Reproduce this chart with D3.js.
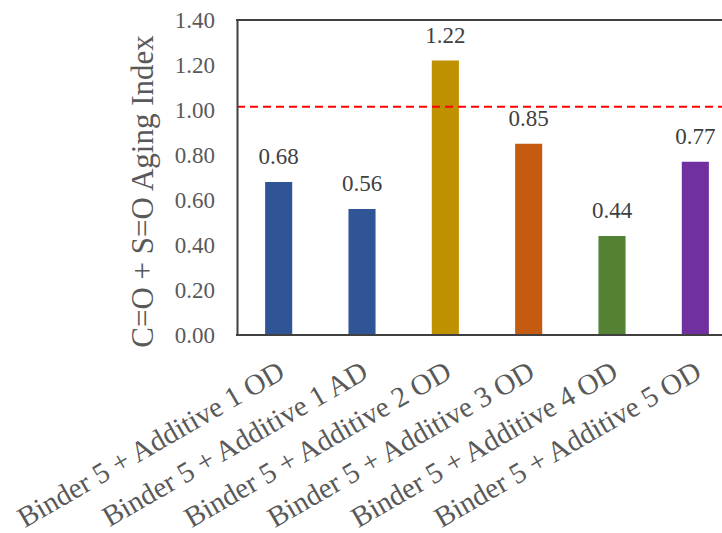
<!DOCTYPE html>
<html>
<head>
<meta charset="utf-8">
<script src="https://cdn.jsdelivr.net/npm/d3@7"></script>
<style>
  html, body { margin: 0; padding: 0; background: #fff; }
  svg { display: block; }
  text { font-family: "Liberation Serif", "Times New Roman", serif; fill: #595959; }
</style>
</head>
<body>
<svg id="chart" width="722" height="533"></svg>
<script>
const categories = [
  "Binder 5 + Additive 1 OD",
  "Binder 5 + Additive 1 AD",
  "Binder 5 + Additive 2 OD",
  "Binder 5 + Additive 3 OD",
  "Binder 5 + Additive 4 OD",
  "Binder 5 + Additive 5 OD"
];
const values = [0.68, 0.56, 1.22, 0.85, 0.44, 0.77];
const barColors = ["#2F5597", "#2F5597", "#BF9000", "#C55A11", "#548235", "#7030A0"];
const yTicks = [0, 0.2, 0.4, 0.6, 0.8, 1.0, 1.2, 1.4];
const referenceLine = 1.015;
const yTitle = "C=O + S=O Aging Index";

const svg = d3.select("#chart");
const pLeft = 237, pRight = 737, pTop = 20, pBottom = 335;

const x = d3.scaleBand().domain(categories).range([pLeft, pRight]).paddingInner(0.675).paddingOuter(0.3375);
const y = d3.scaleLinear().domain([0, 1.4]).range([pBottom, pTop]);

// bars
svg.append("g").selectAll("rect").data(values).join("rect")
  .attr("x", (d, i) => x(categories[i]))
  .attr("y", d => y(d))
  .attr("width", x.bandwidth())
  .attr("height", d => y(0) - y(d))
  .attr("fill", (d, i) => barColors[i]);

// value labels
svg.append("g").selectAll("text").data(values).join("text")
  .attr("x", (d, i) => x(categories[i]) + x.bandwidth() / 2)
  .attr("y", d => y(d) - 18)
  .attr("text-anchor", "middle")
  .attr("font-size", 23)
  .style("fill", "#404040")
  .text(d => d.toFixed(2));

// reference dashed line
svg.append("line")
  .attr("x1", pLeft).attr("x2", 722)
  .attr("y1", y(referenceLine)).attr("y2", y(referenceLine))
  .attr("stroke", "#FF0000").attr("stroke-width", 2)
  .attr("stroke-dasharray", "8,5");

// y axis
const yAxis = d3.axisLeft(y).tickValues(yTicks).tickFormat(d3.format(".2f")).tickSize(0).tickPadding(22);
const gy = svg.append("g").attr("transform", `translate(${pLeft},0)`).call(yAxis);
gy.select(".domain").attr("stroke", "#404040").attr("stroke-width", 2);
gy.selectAll("text").attr("font-size", 23).attr("font-family", "Liberation Serif, serif").style("fill", "#595959");

// x axis
const xAxis = d3.axisBottom(x).tickSize(0).tickFormat("");
const gx = svg.append("g").attr("transform", `translate(0,${pBottom})`).call(xAxis);
gx.select(".domain").remove();
svg.append("line").attr("x1", pLeft - 1).attr("x2", 722).attr("y1", pBottom).attr("y2", pBottom)
  .attr("stroke", "#404040").attr("stroke-width", 2);
// top frame line
svg.append("line").attr("x1", pLeft - 1).attr("x2", 722).attr("y1", pTop).attr("y2", pTop)
  .attr("stroke", "#404040").attr("stroke-width", 2);

// x labels rotated
svg.append("g").selectAll("text").data(categories).join("text")
  .attr("transform", d => `translate(${x(d) + x.bandwidth() / 2 + 8},${pBottom + 42}) rotate(-30)`)
  .attr("text-anchor", "end")
  .attr("font-size", 29)
  .style("fill", "#595959")
  .text(d => d);

// y title
svg.append("text")
  .attr("transform", `translate(153,${(pTop + pBottom) / 2 + 14}) rotate(-90)`)
  .attr("text-anchor", "middle")
  .attr("font-size", 31)
  .style("fill", "#595959")
  .text(yTitle);
</script>
</body>
</html>
